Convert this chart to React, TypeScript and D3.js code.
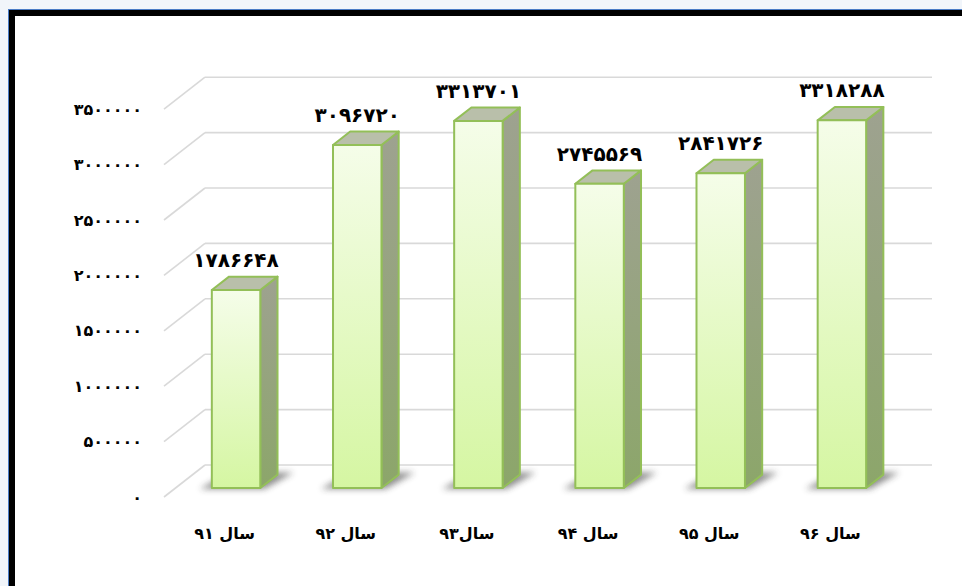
import * as d3 from 'd3'

const categories = ['سال ۹۱', 'سال ۹۲', 'سال۹۳', 'سال ۹۴', 'سال ۹۵', 'سال ۹۶']
const values = [1786648, 3096720, 3313701, 2745569, 2841726, 3318288]
const yTicks = [0, 500000, 1000000, 1500000, 2000000, 2500000, 3000000, 3500000]

const faDigits = '۰۱۲۳۴۵۶۷۸۹'
const toFa = (n: number) => String(n).replace(/[0-9]/g, (d) => faDigits[+d])

export default function App() {
  const width = 962
  const height = 586
  // floor front-left corner of the 3D plot and the depth vector
  const frontX = 164
  const frontY0 = 497
  const depthX = 41
  const depthY = -32
  const plotWidth = 727
  const barFront = 0.28
  const barBack = 0.7

  const x = d3.scaleBand<string>().domain(categories).range([0, plotWidth]).paddingInner(0.6).paddingOuter(0.3)
  const y = d3.scaleLinear().domain([0, 3500000]).range([0, 387.8])

  const fx = frontX + depthX * barFront
  const fy = frontY0 + depthY * barFront
  const bdx = depthX * (barBack - barFront)
  const bdy = depthY * (barBack - barFront)
  const bw = x.bandwidth()
  const font = '"DejaVu Sans", "Noto Sans", sans-serif'

  return (
    <svg width={width} height={height} style={{ position: 'absolute', left: 0, top: 0 }}>
      <defs>
        <linearGradient id="front" x1="0" x2="0" y1="0" y2="1">
          <stop offset="0%" stopColor="#f5fde9" />
          <stop offset="100%" stopColor="#d5f6a2" />
        </linearGradient>
        <linearGradient id="side" x1="0" x2="0" y1="0" y2="1">
          <stop offset="0%" stopColor="#9ea290" />
          <stop offset="100%" stopColor="#8ca66a" />
        </linearGradient>
        <filter id="blur" x="-30%" y="-100%" width="160%" height="300%">
          <feGaussianBlur stdDeviation="3" />
        </filter>
      </defs>

      <rect width={width} height={height} fill="#f1f5fa" />
      <rect x={8} y={9} width={width} height={height} fill="#4a7cc6" />
      <rect x={9} y={10} width={width} height={height} fill="#000" />
      <rect x={15} y={16} width={width} height={height} fill="#fff" />

      {yTicks.map((t) => {
        const yf = frontY0 - y(t)
        return (
          <g key={t}>
            <line x1={frontX} y1={yf} x2={frontX + depthX} y2={yf + depthY} stroke="#d9d9d9" strokeWidth={1.6} />
            <line x1={frontX + depthX} y1={yf + depthY} x2={frontX + depthX + plotWidth} y2={yf + depthY} stroke="#d9d9d9" strokeWidth={1.6} />
            <text x={142} y={yf} dy="0.35em" textAnchor="end" fontFamily={font} fontWeight="bold" fontSize={16} fill="#000">
              {toFa(t)}
            </text>
          </g>
        )
      })}

      {values.map((v, i) => {
        const x0 = fx + (x(categories[i]) ?? 0)
        const x1 = x0 + bw
        return (
          <polygon
            key={'s' + i}
            points={`${x0 - 12},${fy + 1} ${x1 + 4},${fy + 1} ${x1 + bdx + 16},${fy + bdy - 2} ${x0 + bdx},${fy + bdy - 2}`}
            fill="#333"
            opacity={0.55}
            filter="url(#blur)"
          />
        )
      })}

      {values.map((v, i) => {
        const x0 = fx + (x(categories[i]) ?? 0)
        const x1 = x0 + bw
        const top = fy - y(v)
        return (
          <g key={i} stroke="#93bf58" strokeWidth={2} strokeLinejoin="round">
            <polygon points={`${x1},${top} ${x1 + bdx},${top + bdy} ${x1 + bdx},${fy + bdy} ${x1},${fy}`} fill="url(#side)" />
            <polygon points={`${x0},${top} ${x0 + bdx},${top + bdy} ${x1 + bdx},${top + bdy} ${x1},${top}`} fill="#b9bfaa" />
            <rect x={x0} y={top} width={bw} height={fy - top} fill="url(#front)" />
            <text x={x0 + bw / 2} y={top - 23} textAnchor="middle" stroke="none" fontFamily={font} fontWeight="bold" fontSize={20} fill="#000">
              {toFa(v)}
            </text>
          </g>
        )
      })}

      {categories.map((c) => (
        <text
          key={c}
          x={frontX + (x(c) ?? 0) + bw / 2}
          y={533}
          dy="0.35em"
          textAnchor="middle"
          fontFamily={font}
          fontWeight="bold"
          fontSize={16}
          fill="#000"
        >
          {c}
        </text>
      ))}
    </svg>
  )
}
